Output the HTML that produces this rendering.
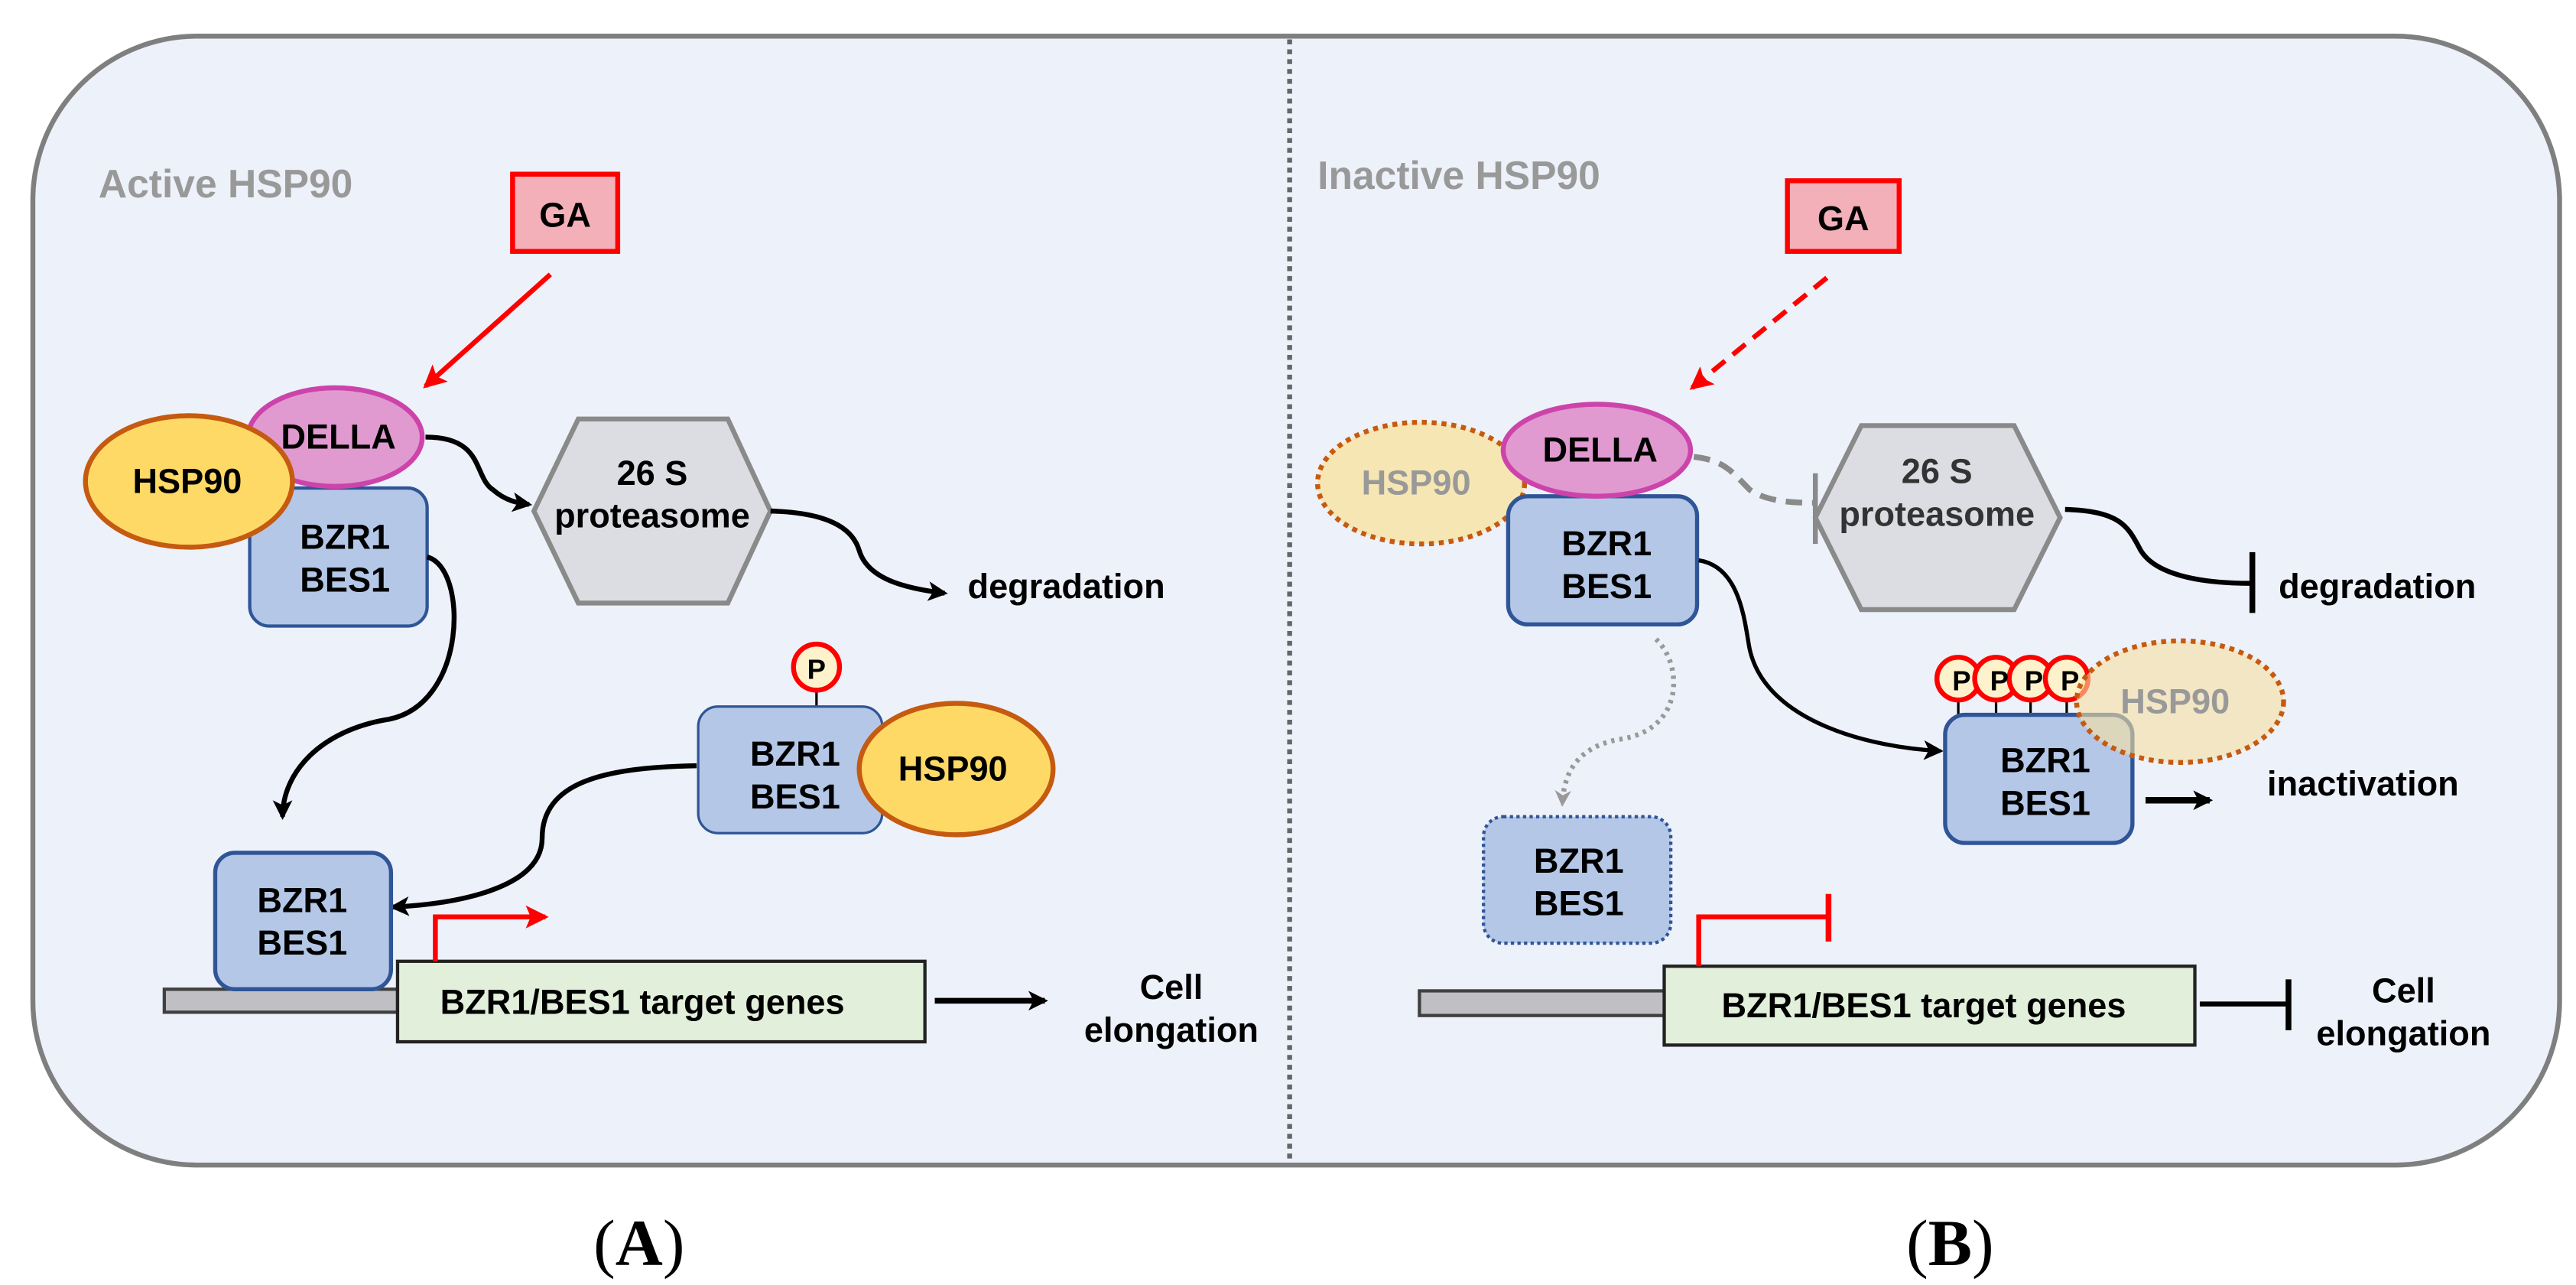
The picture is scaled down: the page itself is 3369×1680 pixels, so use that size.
<!DOCTYPE html>
<html><head><meta charset="utf-8"><style>
html,body{margin:0;padding:0;background:#fff}
svg{display:block}
text{font-family:"Liberation Sans",Arial,sans-serif;font-weight:bold}
</style></head><body>
<svg width="3369" height="1680" viewBox="0 0 1568 782" preserveAspectRatio="none" xmlns="http://www.w3.org/2000/svg">
<defs>
<marker id="ab" markerWidth="12" markerHeight="12" refX="10" refY="6" orient="auto" markerUnits="userSpaceOnUse"><path d="M0,0 L12,6 L0,12 L3,6 Z" fill="#000"/></marker>
<marker id="ar" markerWidth="14" markerHeight="14" refX="12" refY="7" orient="auto" markerUnits="userSpaceOnUse"><path d="M0,0 L14,7 L0,14 L3,7 Z" fill="#f00"/></marker>
<marker id="ag" markerWidth="10" markerHeight="10" refX="8" refY="5" orient="auto" markerUnits="userSpaceOnUse"><path d="M0,0 L10,5 L0,10 L3,5 Z" fill="#999"/></marker>
</defs>
<rect x="20" y="22" width="1538" height="687" rx="100" ry="100" fill="#edf1fa" stroke="#7f7f7f" stroke-width="3"/>
<line x1="785" y1="24" x2="785" y2="707" stroke="#666" stroke-width="3" stroke-dasharray="3,3"/>

<!-- Panel A -->
<text x="60" y="120" font-size="24" fill="#999">Active HSP90</text>
<rect x="312" y="106" width="64" height="47" fill="#f4b0b8" stroke="#f00" stroke-width="3"/>
<text x="344" y="138" font-size="21" text-anchor="middle">GA</text>
<line x1="335" y1="167" x2="259" y2="235" stroke="#f00" stroke-width="3" marker-end="url(#ar)"/>

<path d="M259,266 C295,266 288,290 300,298 C308,305 315,306 322,307" fill="none" stroke="#000" stroke-width="3" marker-end="url(#ab)"/>
<polygon points="325,311 352,255 443,255 469,311 443,367 352,367" fill="#dcdde2" stroke="#8a8a8a" stroke-width="3"/>
<text x="397" y="295" font-size="21" text-anchor="middle">26 S</text>
<text x="397" y="321" font-size="21" text-anchor="middle">proteasome</text>
<path d="M469,311 C510,312 520,325 523,335 C528,352 550,358 575,361" fill="none" stroke="#000" stroke-width="3" marker-end="url(#ab)"/>
<text x="589" y="364" font-size="21">degradation</text>

<rect x="152" y="297" width="108" height="84" rx="12" fill="#b4c7e7" stroke="#2f5597" stroke-width="2"/>
<text x="210" y="334" font-size="21" text-anchor="middle">BZR1</text>
<text x="210" y="360" font-size="21" text-anchor="middle">BES1</text>
<ellipse cx="204" cy="266" rx="53" ry="30" fill="#e09ad0" stroke="#cc44aa" stroke-width="3"/>
<text x="206" y="273" font-size="21" text-anchor="middle">DELLA</text>
<ellipse cx="115" cy="293" rx="63" ry="40" fill="#ffd966" stroke="#c55a11" stroke-width="3"/>
<text x="114" y="300" font-size="21" text-anchor="middle">HSP90</text>

<path d="M260,339 C285,345 285,430 235,438 C195,445 172,470 172,497" fill="none" stroke="#000" stroke-width="3" marker-end="url(#ab)"/>

<line x1="497" y1="420" x2="497" y2="431" stroke="#000" stroke-width="1.5"/>
<circle cx="497" cy="406" r="14" fill="#fef2cc" stroke="#f00" stroke-width="3"/>
<text x="497" y="413" font-size="17" text-anchor="middle">P</text>
<path d="M424,466 C370,467 330,475 330,510 C330,540 280,550 239,552" fill="none" stroke="#000" stroke-width="3" marker-end="url(#ab)"/>
<rect x="425" y="430" width="112" height="77" rx="12" fill="#b4c7e7" stroke="#2f5597" stroke-width="1.5"/>
<text x="484" y="466" font-size="21" text-anchor="middle">BZR1</text>
<text x="484" y="492" font-size="21" text-anchor="middle">BES1</text>
<ellipse cx="582" cy="468" rx="59" ry="40" fill="#ffd966" stroke="#c55a11" stroke-width="3"/>
<text x="580" y="475" font-size="21" text-anchor="middle">HSP90</text>

<rect x="100" y="602" width="142" height="14" fill="#c0c0c4" stroke="#404040" stroke-width="2"/>
<rect x="131" y="519" width="107" height="83" rx="12" fill="#b4c7e7" stroke="#2f5597" stroke-width="2.5"/>
<text x="184" y="555" font-size="21" text-anchor="middle">BZR1</text>
<text x="184" y="581" font-size="21" text-anchor="middle">BES1</text>
<rect x="242" y="585" width="321" height="49" fill="#e2efda" stroke="#222" stroke-width="2"/>
<text x="391" y="617" font-size="21" text-anchor="middle">BZR1/BES1 target genes</text>
<path d="M265,585 L265,558 L332,558" fill="none" stroke="#f00" stroke-width="3" marker-end="url(#ar)"/>
<line x1="569" y1="609" x2="636" y2="609" stroke="#000" stroke-width="3.5" marker-end="url(#ab)"/>
<text x="713" y="608" font-size="21" text-anchor="middle">Cell</text>
<text x="713" y="634" font-size="21" text-anchor="middle">elongation</text>
<text x="389" y="770" font-size="40" text-anchor="middle" style="font-family:'Liberation Serif',serif;font-weight:normal">(<tspan font-weight="bold">A</tspan>)</text>

<!-- Panel B -->
<text x="802" y="115" font-size="24" fill="#999">Inactive HSP90</text>
<rect x="1088" y="110" width="68" height="43" fill="#f4b0b8" stroke="#f00" stroke-width="3"/>
<text x="1122" y="140" font-size="21" text-anchor="middle">GA</text>
<line x1="1112" y1="169" x2="1030" y2="236" stroke="#f00" stroke-width="3" stroke-dasharray="10,6" marker-end="url(#ar)"/>

<path d="M1031,278 C1050,280 1055,288 1065,298 C1075,305 1090,306 1104,306" fill="none" stroke="#8a8a8a" stroke-width="3.5" stroke-dasharray="10,6"/>
<line x1="1105" y1="288" x2="1105" y2="331" stroke="#8a8a8a" stroke-width="3"/>
<polygon points="1105,315 1133,259 1226,259 1254,315 1226,371 1133,371" fill="#dcdde2" stroke="#8a8a8a" stroke-width="3"/>
<text x="1179" y="294" font-size="21" text-anchor="middle" fill="#333">26 S</text>
<text x="1179" y="320" font-size="21" text-anchor="middle" fill="#333">proteasome</text>
<path d="M1257,310 C1290,311 1295,320 1302,333 C1310,350 1340,355 1370,355" fill="none" stroke="#000" stroke-width="3"/>
<line x1="1371" y1="336" x2="1371" y2="373" stroke="#000" stroke-width="3.5"/>
<text x="1387" y="364" font-size="21">degradation</text>

<ellipse cx="865" cy="294" rx="63" ry="37" fill="#f6e6b4" stroke="#c55a11" stroke-width="3" stroke-dasharray="3,3"/>
<text x="862" y="301" font-size="21" text-anchor="middle" fill="#999">HSP90</text>
<rect x="918" y="302" width="115" height="78" rx="12" fill="#b4c7e7" stroke="#2f5597" stroke-width="2.5"/>
<text x="978" y="338" font-size="21" text-anchor="middle">BZR1</text>
<text x="978" y="364" font-size="21" text-anchor="middle">BES1</text>
<ellipse cx="972" cy="274" rx="57" ry="28" fill="#e09ad0" stroke="#cc44aa" stroke-width="3"/>
<text x="974" y="281" font-size="21" text-anchor="middle">DELLA</text>

<path d="M1034,341 C1060,345 1062,380 1065,395 C1075,440 1140,455 1181,457" fill="none" stroke="#000" stroke-width="2.5" marker-end="url(#ab)"/>
<path d="M1008,389 C1025,405 1025,445 985,450 C960,455 952,470 951,489" fill="none" stroke="#999" stroke-width="3" stroke-dasharray="2,3" marker-end="url(#ag)"/>

<rect x="903" y="497" width="114" height="77" rx="12" fill="#b4c7e7" stroke="#2f5597" stroke-width="2" stroke-dasharray="2,2"/>
<text x="961" y="531" font-size="21" text-anchor="middle">BZR1</text>
<text x="961" y="557" font-size="21" text-anchor="middle">BES1</text>

<g stroke="#000" stroke-width="1.5">
<line x1="1192" y1="420" x2="1192" y2="437"/><line x1="1215" y1="420" x2="1215" y2="437"/><line x1="1236" y1="420" x2="1236" y2="437"/><line x1="1258" y1="420" x2="1258" y2="437"/></g>
<g fill="#fef2cc" stroke="#f00" stroke-width="3">
<circle cx="1192" cy="413" r="13"/><circle cx="1215" cy="413" r="13"/><circle cx="1236" cy="413" r="13"/><circle cx="1258" cy="413" r="13"/></g>
<g font-size="17"><text x="1194" y="420" text-anchor="middle">P</text><text x="1217" y="420" text-anchor="middle">P</text><text x="1238" y="420" text-anchor="middle">P</text><text x="1260" y="420" text-anchor="middle">P</text></g>
<rect x="1184" y="435" width="114" height="78" rx="12" fill="#b4c7e7" stroke="#2f5597" stroke-width="2.5"/>
<text x="1245" y="470" font-size="21" text-anchor="middle">BZR1</text>
<text x="1245" y="496" font-size="21" text-anchor="middle">BES1</text>
<ellipse cx="1327" cy="427" rx="63" ry="37" fill="#f6e0a0" fill-opacity="0.6" stroke="#c55a11" stroke-width="3" stroke-dasharray="3,3"/>
<text x="1324" y="434" font-size="21" text-anchor="middle" fill="#999">HSP90</text>
<line x1="1306" y1="487" x2="1345" y2="487" stroke="#000" stroke-width="4" marker-end="url(#ab)"/>
<text x="1380" y="484" font-size="21">inactivation</text>

<rect x="864" y="603" width="150" height="15" fill="#c0c0c4" stroke="#404040" stroke-width="2"/>
<rect x="1013" y="588" width="323" height="48" fill="#e2efda" stroke="#222" stroke-width="2"/>
<text x="1171" y="619" font-size="21" text-anchor="middle">BZR1/BES1 target genes</text>
<path d="M1034,588 L1034,558 L1113,558" fill="none" stroke="#f00" stroke-width="3"/>
<line x1="1113" y1="544" x2="1113" y2="573" stroke="#f00" stroke-width="3.5"/>
<line x1="1339" y1="611" x2="1393" y2="611" stroke="#000" stroke-width="3"/>
<line x1="1393" y1="596" x2="1393" y2="627" stroke="#000" stroke-width="3.5"/>
<text x="1463" y="610" font-size="21" text-anchor="middle">Cell</text>
<text x="1463" y="636" font-size="21" text-anchor="middle">elongation</text>
<text x="1187" y="770" font-size="40" text-anchor="middle" style="font-family:'Liberation Serif',serif;font-weight:normal">(<tspan font-weight="bold">B</tspan>)</text>
</svg>
</body></html>
